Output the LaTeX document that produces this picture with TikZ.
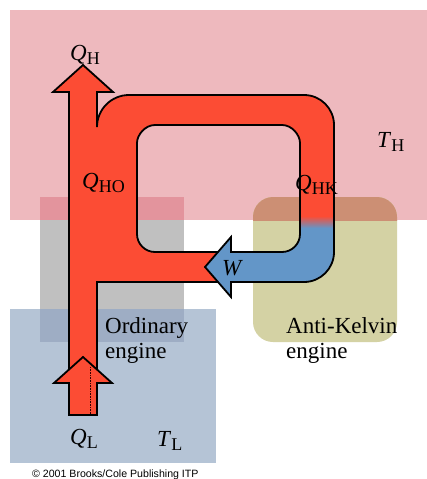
\documentclass[tikz,border=0pt]{standalone}
\usepackage{fontspec}
\setmainfont{Liberation Serif}
\newfontfamily\copyfont{Liberation Sans}
\definecolor{hotpink}{RGB}{238,185,190}
\definecolor{coldblue}{RGB}{181,196,214}
\definecolor{enggray}{RGB}{192,192,192}
\definecolor{engolive}{RGB}{212,210,164}
\definecolor{graypink}{RGB}{227,148,157}
\definecolor{grayblue}{RGB}{158,173,196}
\definecolor{olivepink}{RGB}{204,143,116}
\definecolor{arrowred}{RGB}{252,76,52}
\definecolor{arrowblue}{RGB}{99,150,200}
\newcommand\symsub[2]{\textit{#1}\raisebox{-4pt}{\fontsize{18}{18}\selectfont #2}}
\begin{document}
\begin{tikzpicture}[x=1pt,y=-1pt,
  lbl/.style={inner sep=0pt, anchor=base west, font=\fontsize{23}{25}\selectfont},
  outl/.style={line width=1.8pt, line join=miter, draw=black}]
\useasboundingbox (0,0) rectangle (427,479);
\clip (0,0) rectangle (427,479);
\fill[white] (0,0) rectangle (427,479);
% reservoirs
\fill[hotpink] (10,10) rectangle (427,220);
\fill[coldblue] (10,309) rectangle (216,463);
% engines
\fill[enggray] (40,197) rectangle (184,342);
\fill[engolive, rounded corners=20pt] (253,197) rectangle (397,342);
\fill[graypink] (40,197) rectangle (184,220);
\fill[grayblue] (40,309) rectangle (184,342);
\begin{scope}
  \clip (253,197) rectangle (397,220);
  \fill[olivepink, rounded corners=20pt] (253,197) rectangle (397,342);
\end{scope}
% red flow shape
\fill[arrowred, even odd rule]
  (69,400) -- (69,92) -- (53,92) -- (83,65) -- (113,92) -- (97,92) -- (97,127)
  .. controls (97,109.33) and (111.33,95) .. (129,95) -- (304,95)
  .. controls (320.57,95) and (334,108.43) .. (334,125) -- (334,252)
  .. controls (334,268.57) and (320.57,282) .. (304,282) -- (97,282) -- (97,400) -- cycle
  (155,125) .. controls (145.06,125) and (137,134.94) .. (137,143) -- (137,234)
  .. controls (137,243.94) and (145.06,252) .. (155,252) -- (282,252)
  .. controls (291.94,252) and (300,243.94) .. (300,234) -- (300,143)
  .. controls (300,134.94) and (291.94,125) .. (282,125) -- cycle;
% blue work part
\fill[arrowblue]
  (205,267) -- (231,237) -- (231,252) -- (282,252)
  .. controls (291.94,252) and (300,243.94) .. (300,234) -- (300,227) -- (334,227) -- (334,252)
  .. controls (334,268.57) and (320.57,282) .. (304,282) -- (231,282) -- (231,297) -- cycle;
\shade[top color=arrowred, bottom color=arrowblue] (300,216) rectangle (334,228);
% outlines
\draw[outl]
  (69,383) -- (69,92) -- (53,92) -- (83,65) -- (113,92) -- (97,92) -- (97,127)
  .. controls (97,109.33) and (111.33,95) .. (129,95) -- (304,95)
  .. controls (320.57,95) and (334,108.43) .. (334,125) -- (334,252)
  .. controls (334,268.57) and (320.57,282) .. (304,282) -- (231,282) -- (231,297)
  -- (205,267) -- (231,237) -- (231,252) -- (282,252)
  .. controls (291.94,252) and (300,243.94) .. (300,234) -- (300,143)
  .. controls (300,134.94) and (291.94,125) .. (282,125) -- (155,125)
  .. controls (145.06,125) and (137,134.94) .. (137,143) -- (137,234)
  .. controls (137,243.94) and (145.06,252) .. (155,252) -- (218,252);
\draw[outl] (97,383) -- (97,282) -- (218,282);
% Q_L arrow
\filldraw[fill=arrowred, outl]
  (69,415) -- (69,383) -- (54,383) -- (83,357) -- (112,383) -- (97,383) -- (97,415) -- cycle;
\draw[line width=0.6pt, densely dotted, black!80!red] (90,367) -- (90,414);
% labels
\node[lbl] (qh) at (70,60) {\symsub{Q}{H}};
\node[lbl] (qho) at (82,188) {\symsub{Q}{HO}};
\node[lbl] (qhk) at (295,190) {\symsub{Q}{HK}};
\node[lbl] (th) at (377,147) {\symsub{T}{H}};
\node[lbl] (w) at (222,275) {\textit{W}};
\node[lbl] (ord1) at (105,333) {Ordinary};
\node[lbl] (ord2) at (105,358) {engine};
\node[lbl] (ak1) at (286,333) {Anti-Kelvin};
\node[lbl] (ak2) at (286,358) {engine};
\node[lbl] (ql) at (70,444) {\symsub{Q}{L}};
\node[lbl] (tl) at (157,446) {\symsub{T}{L}};
\node[inner sep=0pt, anchor=base west, font=\copyfont\fontsize{10.6}{12}\selectfont] (copy) at (32,477) {\textcopyright\ 2001 Brooks/Cole Publishing ITP};
\end{tikzpicture}
\end{document}
